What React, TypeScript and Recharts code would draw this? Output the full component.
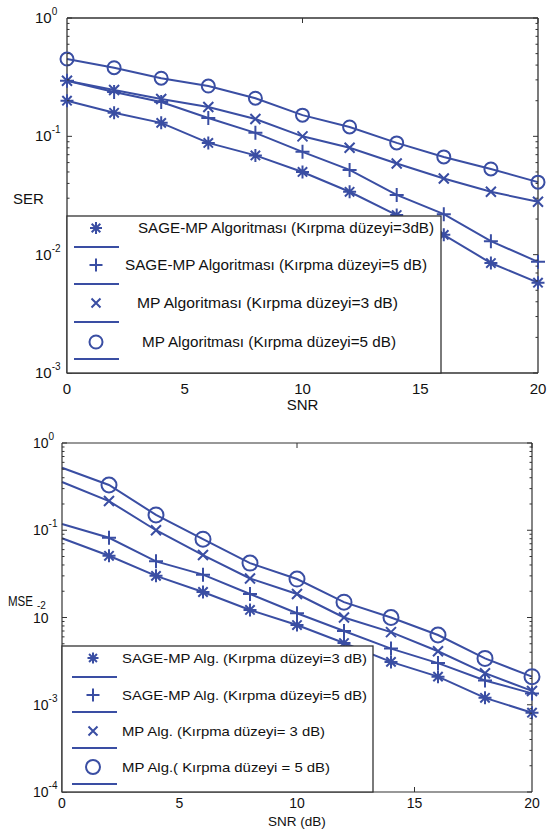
import React from 'react';
import { LineChart, Line, XAxis, YAxis, Legend, Label } from 'recharts';

// ---------- data ----------
const snr = [0, 2, 4, 6, 8, 10, 12, 14, 16, 18, 20];
const serSage3 = [0.2, 0.158, 0.13, 0.088, 0.069, 0.05, 0.034, 0.0216, 0.0147, 0.0085, 0.0058];
const serSage5 = [0.295, 0.237, 0.195, 0.143, 0.107, 0.074, 0.052, 0.032, 0.022, 0.013, 0.0087];
const serMp3 = [0.295, 0.246, 0.207, 0.177, 0.14, 0.1, 0.08, 0.059, 0.044, 0.034, 0.028];
const serMp5 = [0.45, 0.38, 0.31, 0.266, 0.21, 0.151, 0.12, 0.088, 0.067, 0.053, 0.041];

const mseSage3 = [0.081, 0.051, 0.03, 0.0196, 0.0122, 0.0082, 0.0051, 0.0031, 0.0021, 0.0012, 0.00081];
const mseSage5 = [0.118, 0.082, 0.044, 0.031, 0.0186, 0.0112, 0.007, 0.0044, 0.003, 0.0019, 0.00135];
const mseMp3 = [0.357, 0.216, 0.1, 0.052, 0.028, 0.0186, 0.01, 0.0068, 0.0041, 0.0023, 0.00144];
const mseMp5 = [0.52, 0.33, 0.15, 0.079, 0.042, 0.0276, 0.015, 0.01, 0.0063, 0.0034, 0.0021];

const xTicks = [0, 5, 10, 15, 20];
const serLegend = [
  'SAGE-MP Algoritması (Kırpma düzeyi=3dB)',
  'SAGE-MP Algoritması (Kırpma düzeyi=5 dB)',
  'MP Algoritması (Kırpma düzeyi=3 dB)',
  'MP Algoritması (Kırpma düzeyi=5 dB)',
];
const mseLegend = [
  'SAGE-MP Alg. (Kırpma düzeyi=3 dB)',
  'SAGE-MP Alg. (Kırpma düzeyi=5 dB)',
  'MP Alg. (Kırpma düzeyi= 3 dB)',
  'MP Alg.( Kırpma düzeyi = 5 dB)',
];

const serData = snr.map((s, i) => ({ snr: s, a: serSage3[i], b: serSage5[i], c: serMp3[i], d: serMp5[i] }));
const mseData = snr.map((s, i) => ({ snr: s, a: mseSage3[i], b: mseSage5[i], c: mseMp3[i], d: mseMp5[i] }));

function logTicks(lo: number, hi: number) {
  const t: number[] = [];
  for (let e = lo; e < hi; e++) {
    for (let m = 1; m <= 9; m++) t.push(m * Math.pow(10, e));
  }
  t.push(Math.pow(10, hi));
  return t;
}
const serTicks = logTicks(-3, 0);
const mseTicks = logTicks(-4, 0);

// ---------- style ----------
const BLUE = '#3a4ea3';
const AXIS = '#333';
const TXT = '#111';
const FONT = '"Liberation Sans", Arial, Helvetica, sans-serif';

type Kind = 'star' | 'plus' | 'x' | 'circle';
const kinds: Kind[] = ['star', 'plus', 'x', 'circle'];

function Marker({ kind, cx, cy, size }: { kind: Kind; cx: number; cy: number; size: number }) {
  const sw = 2;
  if (kind === 'circle') return <circle cx={cx} cy={cy} r={size} fill="none" stroke={BLUE} strokeWidth={sw} />;
  if (kind === 'plus')
    return <path d={`M${cx - size},${cy}H${cx + size}M${cx},${cy - size}V${cy + size}`} stroke={BLUE} strokeWidth={sw} fill="none" />;
  if (kind === 'x')
    return (
      <path
        d={`M${cx - size},${cy - size}L${cx + size},${cy + size}M${cx - size},${cy + size}L${cx + size},${cy - size}`}
        stroke={BLUE}
        strokeWidth={sw}
        fill="none"
      />
    );
  const d = size * 0.72;
  return (
    <path
      d={`M${cx - size},${cy}H${cx + size}M${cx},${cy - size}V${cy + size}M${cx - d},${cy - d}L${cx + d},${cy + d}M${cx - d},${cy + d}L${cx + d},${cy - d}`}
      stroke={BLUE}
      strokeWidth={sw}
      fill="none"
    />
  );
}

const makeDot = (kind: Kind, size: number, skipFirst: boolean) => (props: any) => {
  const { cx, cy, index } = props;
  if ((skipFirst && index === 0) || cx == null || cy == null) return <g key={`e${index}`} />;
  return (
    <g key={`m${index}`}>
      <Marker kind={kind} cx={cx} cy={cy} size={size} />
    </g>
  );
};

type TickCfg = { labelDx: number; fs: number; efs: number; detached?: number };

const makeLeftTick = (cfg: TickCfg) => (props: any) => {
  const { x, y, payload } = props;
  const v = payload.value;
  const lg = Math.log10(v);
  const e = Math.round(lg);
  const major = Math.abs(lg - e) < 1e-6;
  return (
    <g>
      <line x1={x} y1={y} x2={x + (major ? 5 : 2.5)} y2={y} stroke={AXIS} strokeWidth={1} />
      {major &&
        (cfg.detached === e ? (
          <g>
            <text x={x - cfg.labelDx} y={y + 5} fontSize={cfg.fs} fontFamily={FONT} fill={TXT}>10</text>
            <text x={x - 25} y={y - 9} fontSize={cfg.efs} fontFamily={FONT} fill={TXT}>{String(e)}</text>
          </g>
        ) : (
          <text x={x - cfg.labelDx} y={y + 5} fontSize={cfg.fs} fontFamily={FONT} fill={TXT}>
            <tspan>10</tspan>
            <tspan dy={-8} fontSize={cfg.efs}>{String(e)}</tspan>
          </text>
        ))}
    </g>
  );
};

const rightTick = (props: any) => {
  const { x, y, payload } = props;
  const v = payload.value;
  const lg = Math.log10(v);
  const major = Math.abs(lg - Math.round(lg)) < 1e-6;
  return <line x1={x} y1={y} x2={x - (major ? 5 : 2.5)} y2={y} stroke={AXIS} strokeWidth={1} />;
};

const makeBottomTick = (dy: number, fs: number) => (props: any) => {
  const { x, y, payload } = props;
  const v = payload.value;
  const inner = v !== 0 && v !== 20;
  return (
    <g>
      {inner && <line x1={x} x2={x} y1={y} y2={y - 5} stroke={AXIS} strokeWidth={1} />}
      <text x={x} y={y + dy} textAnchor="middle" fontSize={fs} fontFamily={FONT} fill={TXT}>{v}</text>
    </g>
  );
};

const topTick = (props: any) => {
  const { x, y, payload } = props;
  const v = payload.value;
  if (v === 0 || v === 20) return <g />;
  return <line x1={x} x2={x} y1={y} y2={y + 5} stroke={AXIS} strokeWidth={1} />;
};

type LegendLayout = {
  w: number;
  h: number;
  markerX: number;
  rows: number[];
  lines: number[];
  lineX: [number, number];
  textX: number[];
  textW: number[];
  fs: number;
  sizes: number[];
  labels: string[];
};

function LegendBox({ L }: { L: LegendLayout }) {
  return (
    <svg width={L.w} height={L.h} style={{ display: 'block', overflow: 'visible' }}>
      <rect x={0} y={0} width={L.w} height={L.h} fill="#fff" stroke={AXIS} strokeWidth={1.3} />
      {kinds.map((k, i) => (
        <g key={k}>
          <Marker kind={k} cx={L.markerX} cy={L.rows[i]} size={L.sizes[i]} />
          <line x1={L.lineX[0]} x2={L.lineX[1]} y1={L.lines[i]} y2={L.lines[i]} stroke={BLUE} strokeWidth={2} />
          <text
            x={L.textX[i]}
            y={L.rows[i] + L.fs * 0.36}
            fontSize={L.fs}
            fontFamily={FONT}
            fill={TXT}
            textLength={L.textW[i]}
            lengthAdjust="spacingAndGlyphs"
          >
            {L.labels[i]}
          </text>
        </g>
      ))}
    </svg>
  );
}

const serLegendLayout: LegendLayout = {
  w: 374,
  h: 157,
  markerX: 29,
  rows: [12, 49, 87, 126],
  lines: [31, 68, 106, 143],
  lineX: [7, 52],
  textX: [71, 58, 70, 75],
  textW: [296, 302, 261, 254],
  fs: 14,
  sizes: [6, 6.5, 4.5, 6.5],
  labels: serLegend,
};

const mseLegendLayout: LegendLayout = {
  w: 311,
  h: 146,
  markerX: 31,
  rows: [12, 49, 85, 121],
  lines: [31, 66, 102, 138],
  lineX: [10, 55],
  textX: [60, 60, 60, 60],
  textW: [245, 245, 203, 208],
  fs: 13,
  sizes: [5.5, 6.5, 4.5, 7],
  labels: mseLegend,
};

export default function App() {
  const serSizes = [6.5, 7, 5, 6.5];
  const mseSizes = [6.5, 7, 5, 7.5];
  const keys = ['a', 'b', 'c', 'd'];
  return (
    <div style={{ position: 'absolute', left: 0, top: 0, width: 559, height: 834, background: '#fff' }}>
      <div style={{ position: 'absolute', left: 0, top: 0 }}>
        <LineChart width={559} height={420} data={serData} margin={{ top: 17, right: 20, left: 0, bottom: 17 }}>
          <XAxis
            dataKey="snr"
            type="number"
            domain={[0, 20]}
            ticks={xTicks}
            interval={0}
            height={30}
            tickSize={0}
            tickMargin={0}
            tickLine={false}
            axisLine={{ stroke: AXIS, strokeWidth: 1.3 }}
            tick={makeBottomTick(21, 15)}
          >
            <Label
              content={(p: any) => {
                const vb = p.viewBox || {};
                return (
                  <text x={(vb.x ?? 67) + (vb.width ?? 471) / 2} y={(vb.y ?? 373) + 37} textAnchor="middle" fontSize={15} fontFamily={FONT} fill={TXT}>
                    SNR
                  </text>
                );
              }}
            />
          </XAxis>
          <XAxis
            xAxisId="t"
            orientation="top"
            type="number"
            domain={[0, 20]}
            ticks={xTicks}
            interval={0}
            height={1}
            tickSize={0}
            tickMargin={0}
            tickLine={false}
            axisLine={{ stroke: AXIS, strokeWidth: 1.3 }}
            tick={topTick}
          />
          <YAxis
            type="number"
            scale="log"
            domain={[0.001, 1]}
            allowDataOverflow
            ticks={serTicks}
            interval={0}
            width={67}
            tickSize={0}
            tickMargin={0}
            tickLine={false}
            axisLine={{ stroke: AXIS, strokeWidth: 1.3 }}
            tick={makeLeftTick({ labelDx: 32, fs: 15, efs: 10 })}
          >
            <Label
              content={() => (
                <text x={13} y={204} fontSize={15} fontFamily={FONT} fill={TXT}>SER</text>
              )}
            />
          </YAxis>
          <YAxis
            yAxisId="r"
            orientation="right"
            type="number"
            scale="log"
            domain={[0.001, 1]}
            allowDataOverflow
            ticks={serTicks}
            interval={0}
            width={1}
            tickSize={0}
            tickMargin={0}
            tickLine={false}
            axisLine={{ stroke: AXIS, strokeWidth: 1.3 }}
            tick={rightTick}
          />
          {keys.map((k, i) => (
            <Line
              key={k}
              type="linear"
              dataKey={k}
              stroke={BLUE}
              strokeWidth={2}
              dot={makeDot(kinds[i], serSizes[i], false)}
              activeDot={false}
              isAnimationActive={false}
            />
          ))}
          <Legend
            layout="horizontal"
            verticalAlign="middle"
            align="center"
            wrapperStyle={{ position: 'absolute', left: 67, top: 216, width: 374, height: 157 }}
            content={() => <LegendBox L={serLegendLayout} />}
          />
        </LineChart>
      </div>

      <div style={{ position: 'absolute', left: 0, top: 425 }}>
        <LineChart width={559} height={409} data={mseData} margin={{ top: 17, right: 26, left: 0, bottom: 12 }}>
          <XAxis
            dataKey="snr"
            type="number"
            domain={[0, 20]}
            ticks={xTicks}
            interval={0}
            height={30}
            tickSize={0}
            tickMargin={0}
            tickLine={false}
            axisLine={{ stroke: AXIS, strokeWidth: 1.2 }}
            tick={makeBottomTick(16, 14)}
          >
            <Label
              content={(p: any) => {
                const vb = p.viewBox || {};
                return (
                  <text x={(vb.x ?? 62) + (vb.width ?? 470) / 2} y={(vb.y ?? 367) + 34} textAnchor="middle" fontSize={13.5} fontFamily={FONT} fill={TXT}>
                    SNR (dB)
                  </text>
                );
              }}
            />
          </XAxis>
          <XAxis
            xAxisId="t"
            orientation="top"
            type="number"
            domain={[0, 20]}
            ticks={xTicks}
            interval={0}
            height={1}
            tickSize={0}
            tickMargin={0}
            tickLine={false}
            axisLine={{ stroke: AXIS, strokeWidth: 1.2 }}
            tick={topTick}
          />
          <YAxis
            type="number"
            scale="log"
            domain={[0.0001, 1]}
            allowDataOverflow
            ticks={mseTicks}
            interval={0}
            width={62}
            tickSize={0}
            tickMargin={0}
            tickLine={false}
            axisLine={{ stroke: AXIS, strokeWidth: 1.2 }}
            tick={makeLeftTick({ labelDx: 29, fs: 14, efs: 10, detached: -2 })}
          >
            <Label
              content={() => (
                <text x={8} y={181} fontSize={14} fontFamily={FONT} fill={TXT} textLength={25} lengthAdjust="spacingAndGlyphs">MSE</text>
              )}
            />
          </YAxis>
          <YAxis
            yAxisId="r"
            orientation="right"
            type="number"
            scale="log"
            domain={[0.0001, 1]}
            allowDataOverflow
            ticks={mseTicks}
            interval={0}
            width={1}
            tickSize={0}
            tickMargin={0}
            tickLine={false}
            axisLine={{ stroke: AXIS, strokeWidth: 1.2 }}
            tick={rightTick}
          />
          {keys.map((k, i) => (
            <Line
              key={k}
              type="linear"
              dataKey={k}
              stroke={BLUE}
              strokeWidth={2}
              dot={makeDot(kinds[i], mseSizes[i], true)}
              activeDot={false}
              isAnimationActive={false}
            />
          ))}
          <Legend
            layout="horizontal"
            verticalAlign="middle"
            align="center"
            wrapperStyle={{ position: 'absolute', left: 62, top: 221, width: 311, height: 146 }}
            content={() => <LegendBox L={mseLegendLayout} />}
          />
        </LineChart>
      </div>
    </div>
  );
}
